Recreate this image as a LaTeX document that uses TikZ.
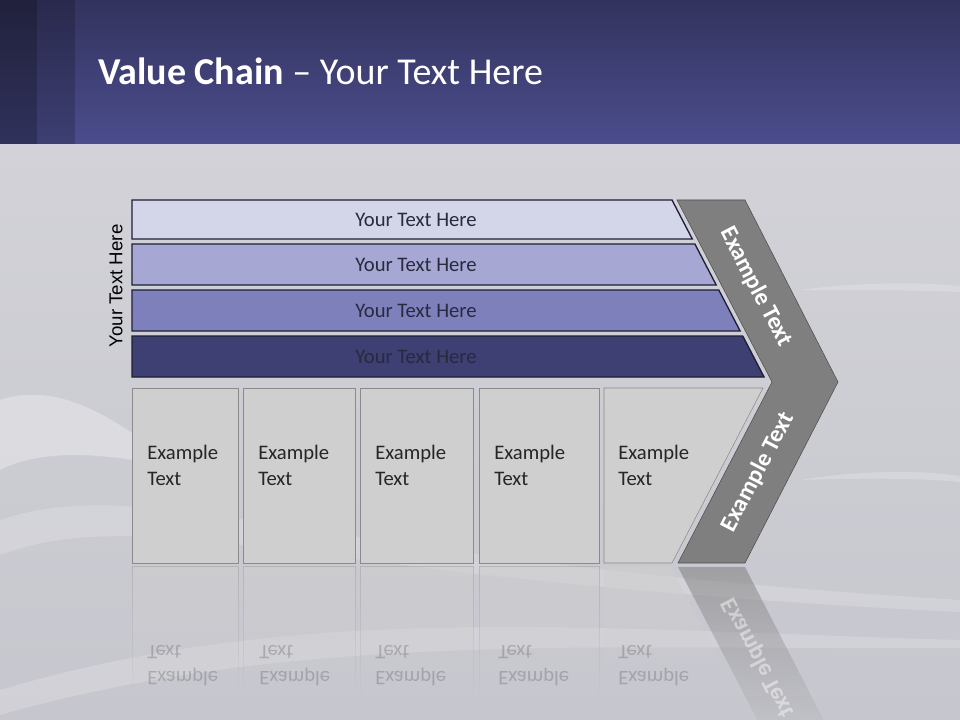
\documentclass[tikz,border=0pt]{standalone}
\usepackage{fontspec}
\setmainfont{Carlito}
\newfontfamily\sidefont{Liberation Sans}
\usetikzlibrary{fadings}
\definecolor{hdtop}{HTML}{33335E}
\definecolor{hdbot}{HTML}{4B4D8D}
\definecolor{bgtop}{HTML}{D2D2D8}
\definecolor{bgbot}{HTML}{C6C6CE}
\definecolor{barA}{HTML}{D3D5E9}
\definecolor{barB}{HTML}{A6A8D3}
\definecolor{barC}{HTML}{7E80BC}
\definecolor{barD}{HTML}{3E3F72}
\definecolor{barline}{HTML}{1E1E38}
\definecolor{bartxt}{HTML}{29293F}
\definecolor{boxgray}{HTML}{CFCFCF}
\definecolor{boxline}{HTML}{8A8A8A}
\definecolor{chevgray}{HTML}{7F7F7F}
\definecolor{chevline}{HTML}{4D4D4D}
\tikzfading[name=refl fade, top color=transparent!45, bottom color=transparent!100]
\tikzset{
  bartext/.style={text=bartxt,font=\fontsize{15.5}{19}\selectfont},
  boxtext/.style={anchor=base west,align=left,inner sep=0pt,text=black!85,font=\fontsize{15.5}{19.5}\selectfont},
  chevtext/.style={text=white,font=\bfseries\fontsize{18}{21}\selectfont},
}

\begin{document}
\begin{tikzpicture}[x=0.75pt,y=-0.75pt]
  \def\chainbar#1#2#3#4{%
    \filldraw[fill=#3,draw=barline,line width=1pt] (132,#1) -- ({672+0.52*(#1-200)},#1)
      -- ({672+0.52*(#2-200)},#2) -- (132,#2) -- cycle;
    \node[bartext] (#4) at (416,{(#1+#2)/2}) {Your Text Here};}
  \useasboundingbox (0,0) rectangle (960,720);
  % background
  \shade[top color=bgtop,bottom color=bgbot] (0,145) rectangle (960,720);
  \fill[white,opacity=0.18] (0,520) .. controls (150,470) and (300,560) .. (960,600)
    -- (960,612) .. controls (300,580) and (150,500) .. (0,555) -- cycle;
  \fill[white,opacity=0.3] (0,400) .. controls (60,380) and (120,420) .. (180,470)
    .. controls (100,450) and (40,450) .. (0,470) -- cycle;
  \fill[white,opacity=0.18] (0,690) .. controls (300,600) and (600,630) .. (960,640)
    -- (960,648) .. controls (600,650) and (300,630) .. (0,715) -- cycle;
  \fill[white,opacity=0.2] (800,290) .. controls (860,282) and (920,282) .. (960,286)
    -- (960,292) .. controls (920,290) and (860,290) .. (800,290) -- cycle;
  \fill[white,opacity=0.2] (800,480) .. controls (860,470) and (920,470) .. (960,476)
    -- (960,482) .. controls (920,478) and (860,478) .. (800,480) -- cycle;
  % header
  \shade[top color=hdtop,bottom color=hdbot] (0,0) rectangle (960,145);
  \fill[black,opacity=0.35] (0,0) rectangle (37,145);
  \fill[black,opacity=0.18] (37,0) rectangle (75,145);
  \draw[white!75!hdbot,line width=1pt] (0,145) -- (960,145);
  \node[anchor=base west,inner sep=0pt,text=white,font=\fontsize{28.5}{34}\selectfont] (title)
    at (98,85) {\textbf{Value Chain} -- Your Text Here};
  % side label
  \node[rotate=90,font=\sidefont\fontsize{14}{17}\selectfont] (side) at (116,286) {Your Text Here};
  % bars
  \chainbar{200}{239}{barA}{bar1}
  \chainbar{244}{285}{barB}{bar2}
  \chainbar{290}{331}{barC}{bar3}
  \chainbar{336}{377}{barD}{bar4}
  % reflections
  \foreach \xa/\xb in {132/238,243/355,360/473,479/599}{
    \fill[boxgray,path fading=refl fade] (\xa,566) rectangle (\xb,700);
    \draw[boxline!60!bgbot,path fading=refl fade] (\xa,700) -- (\xa,566) -- (\xb,566) -- (\xb,700);}
  \fill[boxgray,path fading=refl fade] (604,566) -- (670,566) -- (735,690) -- (604,690) -- cycle;
  \fill[chevgray,path fading=refl fade] (678,567) -- (745,567) -- (838,748) -- (772,748) -- cycle;
  \foreach \xa [count=\i] in {147,259,375,498,618}{
    \node[boxtext,yscale=-1,text opacity=0.22] (rb\i) at (\xa,645) {Example\\Text};}
  \node[chevtext,rotate=-62.5,yscale=-1,text opacity=0.45] (rchev) at (758,658) {Example Text};
  % activity boxes
  \foreach \xa/\xb [count=\i] in {132/238,243/355,360/473,479/599}{
    \filldraw[fill=boxgray,draw=boxline] (\xa,388) rectangle (\xb,563);
    \node[boxtext] (box\i) at ({\xa+15},485) {Example\\Text};}
  \filldraw[fill=boxgray,draw=boxline] (604,388) -- (763,388) -- (672,563) -- (604,563) -- cycle;
  \node[boxtext] (box5) at (618,485) {Example\\Text};
  % chevron
  \filldraw[fill=chevgray,draw=chevline] (677,200) -- (745,200) -- (838,382) -- (745,563)
    -- (678,563) -- (772,382) -- cycle;
  \node[chevtext,rotate=-62.5] (chevtop) at (756,287) {Example Text};
  \node[chevtext,rotate=62.5] (chevbot) at (758,472) {Example Text};
\end{tikzpicture}
\end{document}
